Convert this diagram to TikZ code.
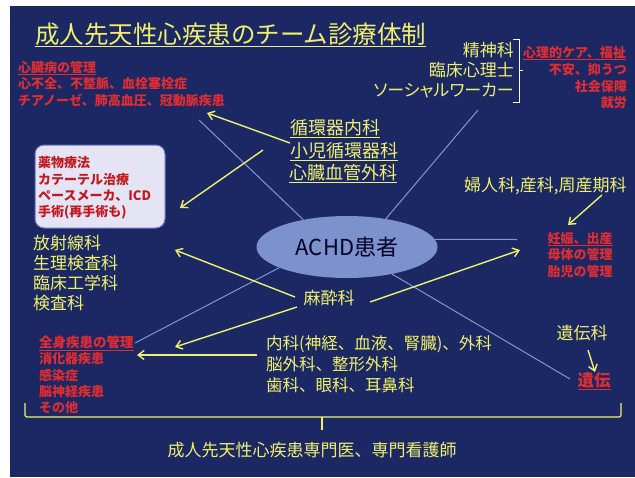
\documentclass[tikz,border=0pt]{standalone}
\usepackage{fontspec}
\newfontfamily\jp{Noto Sans CJK JP}
\newfontfamily\jpp{Noto Sans CJK JP}[RawFeature=+palt]
\usetikzlibrary{arrows.meta,shapes.geometric}
\definecolor{bgc}{RGB}{27,40,100}
\definecolor{yel}{RGB}{240,240,110}
\definecolor{redc}{RGB}{225,45,50}
\definecolor{boxred}{RGB}{195,25,30}
\definecolor{lblue}{RGB}{130,150,215}
\definecolor{ellc}{RGB}{125,145,205}
\definecolor{boxfill}{RGB}{228,228,245}
\definecolor{boxline}{RGB}{100,110,190}
\tikzset{
  ytxt/.style={text=yel, inner sep=0, font=\jp\fontsize{17}{20}\selectfont},
  ytxtb/.style={text=yel, inner sep=0, font=\jp\fontsize{18}{21}\selectfont},
  ytxtm/.style={text=yel, inner sep=0, font=\jp\fontsize{16.5}{20}\selectfont},
  rtxt/.style={text=redc, inner sep=0, font=\jp\bfseries\fontsize{13}{16}\selectfont},
  rbox/.style={text=boxred, inner sep=0, font=\jp\bfseries\fontsize{13}{16}\selectfont},
  yarr/.style={draw=yel, line width=1.4pt, -{Straight Barb[length=6pt,width=9pt]}},
  spoke/.style={draw=lblue, line width=1pt},
  ybrk/.style={draw=yel, line width=1.2pt},
}
\begin{document}
\begin{tikzpicture}[x=1pt,y=-1pt]
\useasboundingbox (0,0) rectangle (635,477);
\fill[white] (0,0) rectangle (635,477);
\fill[bgc] (10,6) rectangle (635,477);

% title
\node[text=yel, inner sep=0, font=\jp\fontsize{24.5}{28}\selectfont, anchor=base west] (title) at (35,43) {\underline{成人先天性心疾患のチーム診療体制}};

% heart disease management (top left, red)
\node[rtxt, anchor=base west] (hd0) at (18,72) {\underline{心臓病の管理}};
\node[rtxt, anchor=base west] (hd1) at (18,88) {心不全、不整脈、血栓塞栓症};
\node[rtxt, anchor=base west] (hd2) at (18,105) {チアノーゼ、肺高血圧、冠動脈疾患};

% top right yellow
\node[ytxt, anchor=base east] (ps1) at (514,56.5) {精神科};
\node[ytxt, anchor=base east] (ps2) at (514,76.5) {臨床心理士};
\node[ytxt, anchor=base east, font=\jpp\fontsize{17}{20}\selectfont] (ps3) at (514,96.5) {ソーシャルワーカー};
\draw[ybrk, draw=white!85!yel, line width=0.9pt] (513,39) -- (519,39) -- (519,102) -- (513,102);
\draw[ybrk, draw=white!85!yel, line width=0.9pt] (519,70) -- (523,70);

% top right red
\node[rtxt, anchor=base west] (pc0) at (523,57) {\underline{心理的ケア、福祉}};
\node[rtxt, anchor=base east] (pc1) at (627,74) {不安、抑うつ};
\node[rtxt, anchor=base east] (pc2) at (627,91) {社会保障};
\node[rtxt, anchor=base east] (pc3) at (627,107) {就労};

% cardiology
\node[ytxtb, anchor=base west] (cd1) at (290,134) {\underline{循環器内科}};
\node[ytxtb, anchor=base west] (cd2) at (290,157) {\underline{小児循環器科}};
\node[ytxtb, anchor=base west] (cd3) at (289,179) {\underline{心臓血管外科}};

% treatment box
\node[draw=boxline, fill=boxfill, line width=1pt, rounded corners=9pt, minimum width=130pt, minimum height=83pt, inner sep=0] (tbox) at (100,186.5) {};
\node[rbox, anchor=base west] (tb1) at (38,167) {薬物療法};
\node[rbox, anchor=base west] (tb2) at (38,184) {カテーテル治療};
\node[rbox, anchor=base west] (tb3) at (38,200) {ペースメーカ、ICD};
\node[rbox, anchor=base west] (tb4) at (38,216) {手術(再手術も)};

% left yellow list
\node[ytxt, anchor=base west] (lf1) at (33,249.5) {放射線科};
\node[ytxt, anchor=base west] (lf2) at (33,269.5) {生理検査科};
\node[ytxt, anchor=base west] (lf3) at (33,289.5) {臨床工学科};
\node[ytxt, anchor=base west] (lf4) at (33,309.5) {検査科};

% spokes (behind ellipse)
\coordinate (s1) at (199,120);
\coordinate (s2) at (478,110);
\coordinate (s3) at (517,239.5);
\coordinate (s4) at (570,379);
\coordinate (s5) at (135,343);

\node[ellipse, fill=ellc, minimum width=181pt, minimum height=62pt, inner sep=0,
      text=black!85!blue, font=\jp\fontsize{22}{26}\selectfont] (achd) at (347,247) {ACHD患者};
\draw[spoke] (achd.148) -- (s1);
\draw[spoke] (achd.36) -- (s2);
\draw[spoke] (achd.5) -- (s3);
\draw[spoke] (achd.329) -- (s4);
\draw[spoke] (achd.197) -- (s5);

% anesthesia
\node[ytxt, anchor=base] (anes) at (329,304.5) {麻酔科};

% obstetrics
\node[ytxt, anchor=base west] (ob) at (464,191.5) {婦人科,産科,周産期科};
\node[rtxt, anchor=base] (pg0) at (580,243) {\underline{妊娠、出産}};
\node[rtxt, anchor=base] (pg1) at (580,259) {母体の管理};
\node[rtxt, anchor=base] (pg2) at (580,276) {胎児の管理};

% internal medicine etc.
\node[ytxtm, anchor=base west] (im1) at (266,349.3) {内科(神経、血液、腎臓)、外科};
\node[ytxtm, anchor=base west] (im2) at (266,370.3) {脳外科、整形外科};
\node[ytxtm, anchor=base west] (im3) at (266,391.3) {歯科、眼科、耳鼻科};

% systemic disease
\node[rtxt, font=\jp\bfseries\fontsize{13.5}{16}\selectfont, anchor=base west] (sd0) at (39,347) {\underline{全身疾患の管理}};
\node[rtxt, anchor=base west] (sd1) at (39,363) {消化器疾患};
\node[rtxt, anchor=base west] (sd2) at (39,380) {感染症};
\node[rtxt, anchor=base west] (sd3) at (39,396) {脳神経疾患};
\node[rtxt, anchor=base west] (sd4) at (39,412) {その他};

% genetics
\node[ytxt, anchor=base] (gen1) at (582,339.5) {遺伝科};
\node[rtxt, font=\jp\bfseries\fontsize{16.5}{20}\selectfont, anchor=base] (gen2) at (594,386) {\underline{遺伝}};

% bottom bracket and text
\draw[ybrk, rounded corners=2pt] (25,403) -- (25,417) -- (621,417) -- (621,403);
\draw[ybrk] (322,417) -- (322,430);
\node[ytxt, anchor=base] (bottom) at (312,456.5) {成人先天性心疾患専門医、専門看護師};

% arrows
\coordinate (a1s) at (290,143); \coordinate (a1e) at (207,113);
\coordinate (a2s) at (263,150); \coordinate (a2e) at (180,208);
\coordinate (a3s) at (295,297); \coordinate (a3e) at (175,250);
\coordinate (a4s) at (297,307); \coordinate (a4e) at (175,347);
\coordinate (a5s) at (370,302); \coordinate (a5e) at (520,250);
\coordinate (a6s) at (602,195); \coordinate (a6e) at (568,225);
\coordinate (a7s) at (588,350); \coordinate (a7e) at (595,372);
\coordinate (a8s) at (257,355); \coordinate (a8e) at (137,355);
\draw[yarr] (a1s) -- (a1e);
\draw[yarr] (a2s) -- (a2e);
\draw[yarr] (a3s) -- (a3e);
\draw[yarr] (a4s) -- (a4e);
\draw[yarr] (a5s) -- (a5e);
\draw[yarr] (a6s) -- (a6e);
\draw[yarr] (a7s) -- (a7e);
\draw[yarr] (a8s) -- (a8e);
\end{tikzpicture}
\end{document}
